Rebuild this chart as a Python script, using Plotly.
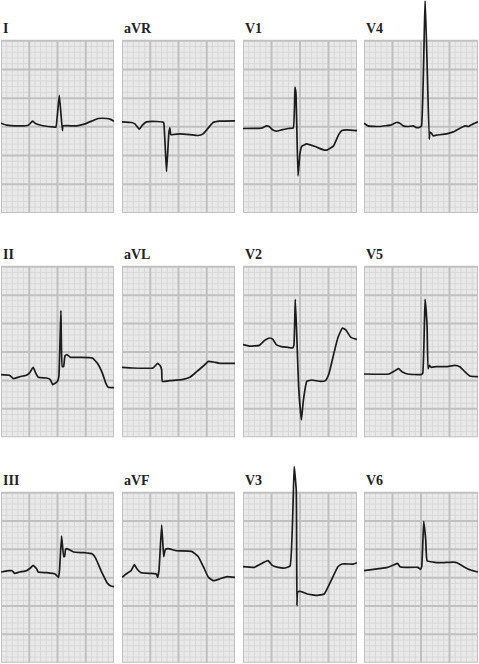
import plotly.graph_objects as go

# 12-lead ECG, values in mm of ECG paper (x: time, y: amplitude; panel = 20 x 30 mm)
lead_names = ["I", "aVR", "V1", "V4", "II", "aVL", "V2", "V5", "III", "aVF", "V3", "V6"]

t_I = [0, 1.0, 3.36, 4.84, 5.6, 6.2, 7.2, 9.56, 9.73, 10.32, 10.86, 10.97, 13.4, 14.87, 16.3, 17.2, 18.7, 19.3, 20.0]
v_I = [0.64, 0.29, 0.17, 0.29, 0.99, 0.52, 0.23, -0.06, -0.06, 5.47, -0.64, 0.17, 0.17, 0.52, 1.1, 1.45, 1.45, 1.34, 0.99]

t_aVR = [0, 1.7, 2.29, 3.06, 3.65, 4.35, 6.12, 7.29, 7.41, 7.88, 8.29, 8.47, 8.65, 10.24, 12.0, 13.47, 14.35, 15.24, 16.12, 17.3, 20.0]
v_aVR = [0.87, 0.76, 0.52, -0.41, 0.35, 0.87, 0.93, 0.81, 0.64, -7.79, -1.1, -0.17, -1.34, -1.22, -1.34, -1.51, -1.22, -0.23, 0.76, 0.99, 1.05]

t_V1 = [0, 3.24, 4.12, 4.59, 5.18, 5.88, 6.76, 7.94, 8.82, 9.12, 9.29, 9.65, 10.0, 10.29, 11.18, 12.65, 14.12, 14.82, 15.88, 16.76, 17.35, 18.24, 20.0]
v_V1 = [-0.29, -0.23, 0.17, 0.06, -0.52, -0.76, -0.52, -0.29, -0.17, 6.92, 5.87, -8.55, -4.59, -3.43, -2.97, -3.43, -4.01, -4.01, -3.31, -1.4, -0.64, -0.52, -0.64]

t_V4 = [0, 0.7, 2.76, 4.81, 5.69, 6.28, 6.86, 7.74, 8.62, 9.21, 9.79, 10.09, 10.73, 11.44, 11.55, 11.85, 12.14, 12.73, 14.49, 15.66, 16.83, 17.71, 18.3, 19.18, 20.0]
v_V4 = [0.64, 0.17, 0.06, 0.35, 0.76, 0.64, 0.17, 0.06, 0.17, -0.12, -0.06, 0.17, 22.5, -2.15, -0.99, -1.1, -1.57, -1.45, -1.22, -0.87, -0.23, 0.17, 0.06, 0.52, 0.87]

t_II = [0, 1.5, 2.22, 2.99, 3.89, 4.49, 5.09, 5.69, 6.17, 6.59, 8.08, 8.68, 9.16, 9.58, 10.0, 10.24, 10.6, 10.84, 11.08, 11.32, 11.68, 12.28, 14.07, 16.17, 17.07, 17.96, 18.56, 18.98, 20.0]
v_II = [-3.98, -4.1, -4.69, -4.45, -4.22, -4.1, -3.63, -2.69, -3.75, -4.45, -4.57, -4.8, -5.74, -5.51, -5.16, -4.34, 7.26, -2.58, -2.58, -0.7, -0.47, -0.94, -0.94, -1.05, -1.99, -3.75, -5.51, -6.21, -6.27]

t_aVL = [0, 1.9, 5.48, 5.95, 6.31, 6.79, 7.02, 7.14, 8.45, 10.83, 12.02, 13.21, 14.4, 15.3, 16.19, 17.38, 20.0]
v_aVL = [-2.69, -2.81, -2.81, -2.34, -1.99, -2.46, -3.16, -5.16, -5.04, -4.8, -4.45, -3.46, -2.46, -1.64, -1.76, -1.99, -1.99]

t_V2 = [0, 1.07, 2.86, 3.75, 4.64, 5.24, 5.83, 6.73, 7.92, 8.69, 8.93, 9.17, 9.4, 9.76, 10.24, 10.6, 11.19, 12.08, 13.57, 14.46, 15.06, 15.95, 16.67, 17.44, 18.04, 18.93, 20.0]
v_V2 = [1.29, 1.05, 1.17, 1.99, 2.46, 2.23, 1.29, 0.94, 0.82, 0.7, 1.17, 9.26, 3.87, -6.09, -11.95, -8.44, -5.16, -4.92, -5.16, -5.04, -3.87, -0.23, 2.58, 4.22, 3.87, 2.58, 2.23]

t_V5 = [0, 4.38, 5.27, 6.04, 6.75, 7.63, 10.0, 10.3, 10.71, 11.07, 11.24, 11.48, 11.78, 12.66, 14.44, 15.92, 16.8, 17.69, 18.58, 20.0]
v_V5 = [-3.87, -3.87, -3.4, -2.93, -3.51, -3.87, -3.98, -3.75, 9.26, 4.45, -2.93, -2.34, -2.69, -2.58, -2.58, -2.34, -2.58, -3.46, -4.22, -4.34]

t_III = [0, 1.5, 1.98, 2.4, 3.29, 4.49, 5.21, 5.69, 6.29, 6.59, 8.08, 9.58, 10.18, 10.36, 10.72, 11.08, 11.2, 11.26, 11.44, 11.68, 12.87, 14.67, 16.17, 16.77, 17.66, 18.86, 19.46, 20.0]
v_III = [1.0, 1.24, 1.24, 0.76, 1.0, 1.24, 1.71, 2.18, 1.59, 1.0, 0.88, 0.65, 0.06, 1.35, 7.35, 3.71, 3.94, 3.71, 5.0, 5.12, 4.53, 4.41, 4.18, 3.41, 1.35, -1.0, -1.47, -1.59]

t_aVF = [0, 0.71, 1.61, 2.2, 2.62, 3.39, 5.18, 6.07, 6.31, 6.55, 7.02, 7.38, 7.5, 7.68, 8.15, 9.64, 12.32, 13.51, 14.4, 15.3, 16.19, 17.38, 18.57, 20.0]
v_aVF = [0.06, 0.65, 1.24, 2.29, 1.59, 0.88, 0.76, 0.65, 0.06, 1.35, 9.29, 3.71, 4.29, 5.0, 5.12, 4.76, 4.65, 3.71, 1.94, 0.06, -0.53, -0.18, 0.18, 0.06]

t_V3 = [0, 1.98, 2.87, 4.37, 5.15, 6.17, 7.37, 8.26, 8.98, 9.34, 9.46, 9.58, 10.06, 11.26, 13.05, 14.25, 15.45, 16.65, 17.37, 19.34, 20.0]
v_V3 = [1.94, 1.82, 2.29, 3.0, 2.18, 1.82, 1.71, 2.06, 19.59, 15.47, -4.94, -2.53, -2.41, -2.88, -3.12, -2.88, -0.53, 1.94, 2.41, 2.41, 2.65]

t_V6 = [0, 2.62, 4.11, 5.3, 5.89, 6.31, 7.38, 9.46, 9.88, 10.12, 10.48, 10.83, 11.07, 12.14, 13.33, 15.71, 16.31, 17.5, 18.69, 20.0]
v_V6 = [1.24, 1.59, 1.82, 2.29, 2.53, 1.94, 1.82, 1.82, 1.47, 1.94, 9.94, 6.65, 3.0, 2.76, 2.65, 2.76, 2.65, 1.94, 1.35, 1.0]

series = {
    "I": (t_I, v_I), "aVR": (t_aVR, v_aVR), "V1": (t_V1, v_V1), "V4": (t_V4, v_V4),
    "II": (t_II, v_II), "aVL": (t_aVL, v_aVL), "V2": (t_V2, v_V2), "V5": (t_V5, v_V5),
    "III": (t_III, v_III), "aVF": (t_aVF, v_aVF), "V3": (t_V3, v_V3), "V6": (t_V6, v_V6),
}

W, H = 479, 664
col_px = [(1, 114), (122, 235), (243, 357), (364, 478)]
row_px = [(40.7, 213), (266.7, 437.3), (492.7, 662.7)]
EXT_PX = 40  # room above each grid for tall R waves

BG = "#e9e9e9"
MINOR = "#d8d8d8"
MAJOR = "#c0c0c0"
TRACE = "#1c1c1c"

# grid segments (paper grid, mm)
minor_x, minor_y, major_x, major_y = [], [], [], []
for i in range(0, 21):
    xs, ys = (major_x, major_y) if i % 5 == 0 else (minor_x, minor_y)
    xs += [i, i, None]
    ys += [-15, 15, None]
for j in range(-15, 16):
    xs, ys = (major_x, major_y) if j % 5 == 0 else (minor_x, minor_y)
    xs += [0, 20, None]
    ys += [j, j, None]

fig = go.Figure()
layout = dict(
    width=W, height=H, margin=dict(l=0, r=0, t=0, b=0),
    paper_bgcolor="white", plot_bgcolor="rgba(0,0,0,0)", showlegend=False,
)
annotations, shapes = [], []
for i, name in enumerate(lead_names):
    r, c = divmod(i, 4)
    x0, x1 = col_px[c]
    y0, y1 = row_px[r]
    k = "" if i == 0 else str(i + 1)
    px_per_mm = (y1 - y0) / 30.0
    ytop = 15 + EXT_PX / px_per_mm
    axcommon = dict(showticklabels=False, ticks="", zeroline=False, showgrid=False,
                    showline=False, fixedrange=True)
    layout["xaxis" + k] = dict(axcommon, domain=[x0 / W, x1 / W], range=[0, 20], anchor="y" + k)
    layout["yaxis" + k] = dict(axcommon, domain=[1 - y1 / H, 1 - (y0 - EXT_PX) / H],
                               range=[-15, ytop], anchor="x" + k)
    shapes.append(dict(type="rect", xref="x" + k, yref="y" + k, x0=0, x1=20, y0=-15, y1=15,
                       fillcolor=BG, line=dict(width=0), layer="below"))
    fig.add_trace(go.Scatter(x=minor_x, y=minor_y, mode="lines", line=dict(color=MINOR, width=1),
                             xaxis="x" + k, yaxis="y" + k, hoverinfo="skip"))
    fig.add_trace(go.Scatter(x=major_x, y=major_y, mode="lines", line=dict(color=MAJOR, width=2),
                             xaxis="x" + k, yaxis="y" + k, hoverinfo="skip"))
    t, v = series[name]
    fig.add_trace(go.Scatter(
        x=t, y=v, mode="lines", line=dict(color=TRACE, width=1.7, shape="spline", smoothing=0.35),
        cliponaxis=False, xaxis="x" + k, yaxis="y" + k, hoverinfo="skip",
    ))
    annotations.append(dict(
        text="<b>" + name + "</b>", xref="paper", yref="paper",
        x=(x0 + 0.5) / W, y=1 - (y0 - 4) / H, xanchor="left", yanchor="bottom",
        showarrow=False, borderpad=0,
        font=dict(family="Liberation Serif", size=14, color="#222222"),
    ))
layout["annotations"] = annotations
layout["shapes"] = shapes
fig.update_layout(**layout)
fig.write_html("out.html", config={"displayModeBar": False, "staticPlot": True},
               post_script="document.body.style.margin='0';")
